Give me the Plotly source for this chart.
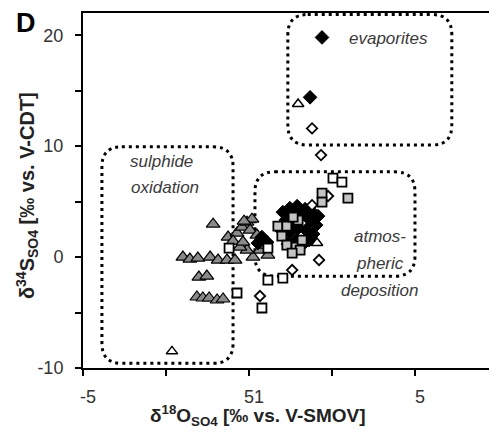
import plotly.graph_objects as go

# --- sample groups: x = d18O(SO4), y = d34S(SO4) ---
tri_gray_x = [-1.08, -1.99, -1.78, -1.54, -1.17, -0.93, -0.66, -0.42, -1.51, -1.27,
              -1.57, -1.39, -1.20, -0.96, -0.78, -0.63, -0.36, -0.21, -0.06, 0.03,
              0.24, 0.33, 0.12, -0.06, -0.27, -0.48, -0.18, 0.09, -0.15, 0.48, 0.57]
tri_gray_y = [2.97, 0.00, -0.18, -0.09, 0.00, -0.27, -0.27, -0.27, -1.80, -1.71,
              -3.60, -3.69, -3.69, -3.87, -3.78, 1.80, 2.16, 2.70, 3.15, 2.43,
              1.98, 0.63, 0.00, 0.63, 0.90, 1.44, 1.35, 3.42, 3.24, 1.08, 0.18]

tri_open_x = [-2.32, 1.48, 2.05]
tri_open_y = [-8.50, 13.80, 1.26]

dia_black_x = [2.20, 1.84, 1.02, 1.23, 1.45, 1.69, 1.90, 2.08, 1.11, 1.36, 1.60,
               1.84, 2.02, 0.96, 1.23, 1.48, 1.72, 1.93, 1.42, 1.66, 1.17, 1.81,
               1.54, 1.30, 0.39, 0.54, 0.27]
dia_black_y = [19.8, 14.4, 4.05, 4.41, 4.59, 4.32, 4.05, 3.69, 3.33, 3.69, 3.78,
               3.33, 2.88, 2.43, 2.25, 2.61, 2.43, 2.07, 1.53, 1.26, 1.17, 1.53,
               4.23, 2.97, 1.80, 1.35, 1.26]

dia_open_x = [1.90, 2.17, 1.90, 2.38, 2.11, 1.30, 0.33]
dia_open_y = [11.6, 9.19, 4.68, 5.50, -0.27, -1.17, -3.51]

sq_open_x = [2.53, 2.80, -0.60, 0.57, -0.36, 0.57, 1.02, 0.39]
sq_open_y = [7.12, 6.76, 0.81, 0.81, -3.24, -2.07, -1.89, -4.59]

sq_gray_x = [2.98, 2.20, 2.20, 0.87, 1.14, 0.99, 1.14, 1.42, 1.60, 1.54, 1.30, 1.48, 1.33]
sq_gray_y = [5.32, 5.77, 4.95, 2.79, 2.79, 1.89, 1.08, 0.90, 1.53, 0.63, 0.36, 3.33, 3.60]

# --- source regions (x0, x1, y0, y1) and their labels ---
regions = {
    "sulphide": (-4.43, -0.48, -9.58, 9.94),
    "evaporites": (1.17, 6.11, 10.1, 21.86),
    "atmospheric": (0.18, 5.00, -1.72, 7.68),
}
region_labels = [
    ("sulphide", -2.65, 8.58),
    ("oxidation", -2.53, 6.23),
    ("evaporites", 4.20, 19.7),
    ("atmos-", 3.95, 1.81),
    ("pheric", 3.95, -0.54),
    ("deposition", 3.95, -2.98),
]

x_ticks = [-5, -2.5, 0, 2.5, 5]
x_ticktext = ["-5", "", "51", "", "5"]
y_ticks = [-10, -5, 0, 5, 10, 15, 20]
y_ticktext = ["-10", "", "0", "", "10", "", "20"]

FONT = "Liberation Sans, Arial, sans-serif"

fig = go.Figure()

def add(xs, ys, symbol, size, fill, lw):
    fig.add_trace(go.Scatter(
        x=xs, y=ys, mode="markers",
        marker=dict(symbol=symbol, size=size, color=fill,
                    line=dict(color="black", width=lw)),
        showlegend=False, hoverinfo="skip"))

add(tri_gray_x, tri_gray_y, "triangle-up", 12, "#8a8a8a", 1.2)
add(dia_black_x, dia_black_y, "diamond", 10.5, "black", 1)
add(dia_open_x, dia_open_y, "diamond", 8, "white", 1.8)
add(tri_open_x, tri_open_y, "triangle-up", 10, "white", 1.5)
add(sq_gray_x, sq_gray_y, "square", 9, "#c4c4c4", 1.8)
add(sq_open_x, sq_open_y, "square", 9, "white", 1.8)


def rounded_box(x0, x1, y0, y1, rx=0.6, ry=1.8):
    return (f"M {x0 + rx} {y1} L {x1 - rx} {y1} Q {x1} {y1} {x1} {y1 - ry} "
            f"L {x1} {y0 + ry} Q {x1} {y0} {x1 - rx} {y0} "
            f"L {x0 + rx} {y0} Q {x0} {y0} {x0} {y0 + ry} "
            f"L {x0} {y1 - ry} Q {x0} {y1} {x0 + rx} {y1} Z")


shapes = []
for key, (x0, x1, y0, y1) in regions.items():
    shapes.append(dict(type="path", xref="x", yref="y", layer="below",
                       path=rounded_box(x0, x1, y0, y1),
                       line=dict(color="black", width=3, dash="3px,4px")))

annotations = []
for text, x, y in region_labels:
    annotations.append(dict(x=x, y=y, xref="x", yref="y", text=f"<i>{text}</i>",
                            showarrow=False,
                            font=dict(family=FONT, size=17, color="#3a3a3a")))

# panel letter and axis titles
annotations.append(dict(x=-0.140, y=0.972, xref="paper", yref="paper",
                        text="<b>D</b>", showarrow=False,
                        xanchor="center", yanchor="middle",
                        font=dict(family=FONT, size=27, color="black")))
annotations.append(dict(x=0.431, y=-0.135, xref="paper", yref="paper",
                        text="<b>δ<sup>18</sup>O<sub>SO4</sub> [‰ vs. V-SMOV]</b>",
                        showarrow=False, xanchor="center", yanchor="middle",
                        font=dict(family=FONT, size=19, color="#222")))
annotations.append(dict(x=-0.138, y=0.487, xref="paper", yref="paper",
                        text="<b>δ<sup>34</sup>S<sub>SO4</sub> [‰ vs. V-CDT]</b>",
                        showarrow=False, xanchor="center", yanchor="middle",
                        textangle=-90,
                        font=dict(family=FONT, size=20, color="#222")))

fig.update_layout(
    width=489, height=434,
    margin=dict(l=83, r=0, t=13, b=66),
    paper_bgcolor="white", plot_bgcolor="white",
    shapes=shapes, annotations=annotations,
    xaxis=dict(range=[-5, 7.23], tickvals=x_ticks, ticktext=x_ticktext,
               ticks="outside", ticklen=6, tickwidth=1.5, tickcolor="black",
               showline=True, linecolor="black", linewidth=2, mirror=True,
               showgrid=False, zeroline=False, ticklabelshift=5,
               ticklabelstandoff=5,
               tickfont=dict(family=FONT, size=18, color="#333")),
    yaxis=dict(range=[-10, 22], tickvals=y_ticks, ticktext=y_ticktext,
               ticks="outside", ticklen=6, tickwidth=1.5, tickcolor="black",
               showline=True, linecolor="black", linewidth=2,
               showgrid=False, zeroline=False, ticklabelstandoff=8,
               tickfont=dict(family=FONT, size=18, color="#333")),
)

fig.write_html("out.html")
